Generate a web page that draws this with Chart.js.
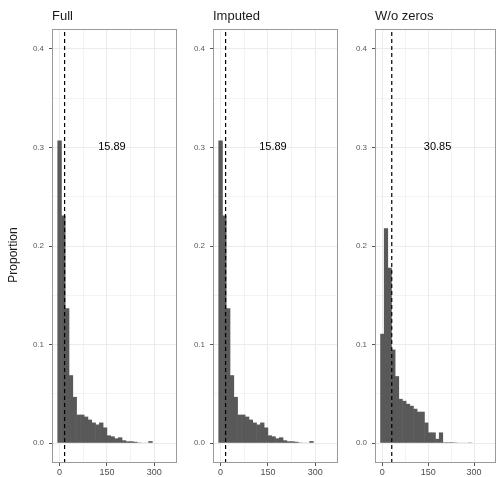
<!DOCTYPE html>
<html>
<head>
<meta charset="utf-8">
<script src="https://cdn.jsdelivr.net/npm/chart.js@4.4.1/dist/chart.umd.min.js"></script>
<style>
  html, body { margin: 0; padding: 0; background: #fff; overflow: hidden; }
  #wrap { position: relative; width: 497px; height: 477px; }
  canvas { position: absolute; top: 0; }
</style>
</head>
<body>
<div id="wrap">
  <canvas id="c0" width="185" height="477" style="left:0px"></canvas>
  <canvas id="c1" width="160" height="477" style="left:185px"></canvas>
  <canvas id="c2" width="152" height="477" style="left:345px"></canvas>
</div>
<script>
// bin centres (binwidth 12)
var binCenters = [0, 12, 24, 36, 48, 60, 72, 84, 96, 108, 120, 132, 144, 156, 168,
                  180, 192, 204, 216, 228, 240, 252, 264, 276, 288, 300, 312, 324, 336, 348];

// proportions per bin
var fullProp = [0.307, 0.231, 0.137, 0.069, 0.047, 0.029, 0.029, 0.027, 0.024, 0.021,
                0.019, 0.021, 0.016, 0.008, 0.007, 0.005, 0.006, 0.003, 0.002, 0.002,
                0.0015, 0.0008, 0.0004, 0.0006, 0.0022, 0, 0, 0, 0, 0];
var imputedProp = [0.307, 0.231, 0.137, 0.069, 0.047, 0.029, 0.029, 0.027, 0.024, 0.021,
                   0.019, 0.021, 0.016, 0.008, 0.007, 0.005, 0.006, 0.003, 0.002, 0.002,
                   0.0015, 0.0008, 0.0004, 0.0006, 0.0022, 0, 0, 0, 0, 0];
var noZeroProp = [0.111, 0.218, 0.178, 0.095, 0.068, 0.045, 0.043, 0.040, 0.038, 0.035,
                  0.032, 0.032, 0.021, 0.011, 0.011, 0.0045, 0.011, 0.001, 0.001, 0.001,
                  0.0008, 0.0006, 0.0006, 0.0006, 0.0008, 0, 0, 0, 0, 0];

var panelTitles = ["Full", "Imputed", "W/o zeros"];
var panelMeans  = [15.89, 15.89, 30.85];

// axis ticks
var xTicks      = [0, 150, 300];
var xMinorTicks = [75, 225];
var yTicks      = [0, 0.1, 0.2, 0.3, 0.4];
var yMinorTicks = [0.05, 0.15, 0.25, 0.35];

var xMin = -24, xMax = 372;
var yMin = -0.02, yMax = 0.42;

Chart.defaults.font.family = "'Liberation Sans', Arial, sans-serif";

function isIn(list, v) {
  for (var i = 0; i < list.length; i++) {
    if (Math.abs(list[i] - v) < 1e-9) return true;
  }
  return false;
}

// titles, mean label, panel border, y title
var facetPlugin = {
  id: "facet",
  afterDraw: function (chart, args, opts) {
    var ctx = chart.ctx, area = chart.chartArea;
    var xs = chart.scales.x, ys = chart.scales.y;
    ctx.save();
    ctx.strokeStyle = "#9a9a9a";
    ctx.lineWidth = 1;
    ctx.strokeRect(area.left + 0.5, area.top + 0.5, area.right - area.left - 1, area.bottom - area.top - 1);

    ctx.fillStyle = "#1a1a1a";
    ctx.font = "13px 'Liberation Sans', Arial, sans-serif";
    ctx.textAlign = "left";
    ctx.textBaseline = "alphabetic";
    ctx.fillText(opts.title, area.left, 20);

    ctx.fillStyle = "#000";
    ctx.font = "11px 'Liberation Sans', Arial, sans-serif";
    ctx.textAlign = "center";
    ctx.textBaseline = "middle";
    ctx.fillText(opts.mean.toFixed(2), xs.getPixelForValue(opts.mean + 150), ys.getPixelForValue(0.3));

    if (opts.yTitle) {
      ctx.font = "12px 'Liberation Sans', Arial, sans-serif";
      ctx.fillStyle = "#1a1a1a";
      ctx.translate(14, 255);
      ctx.rotate(-Math.PI / 2);
      ctx.fillText(opts.yTitle, 0, 0);
    }
    ctx.restore();
  }
};

function makePanel(canvasId, values, title, mean, axisWidth, padRight, yTitle) {
  var bars = binCenters.map(function (c, i) { return { x: c, y: values[i] }; });
  return new Chart(document.getElementById(canvasId).getContext("2d"), {
    type: "bar",
    data: {
      datasets: [
        {
          type: "line",
          data: [{ x: mean, y: yMin }, { x: mean, y: yMax }],
          borderColor: "#000",
          borderWidth: 1.2,
          borderDash: [4, 3],
          pointRadius: 0,
          fill: false,
          order: 0
        },
        {
          type: "bar",
          data: bars,
          backgroundColor: "#595959",
          borderWidth: 0,
          barPercentage: 1.15,
          categoryPercentage: 1,
          order: 1
        }
      ]
    },
    options: {
      responsive: false,
      animation: false,
      devicePixelRatio: 1,
      layout: { padding: { top: 29, right: padRight, bottom: 0, left: 0 } },
      plugins: {
        legend: { display: false },
        tooltip: { enabled: false },
        facet: { title: title, mean: mean, yTitle: yTitle }
      },
      scales: {
        x: {
          type: "linear",
          min: xMin,
          max: xMax,
          offset: false,
          border: { display: false },
          grid: {
            offset: false,
            color: "#ebebeb",
            lineWidth: function (c) { return isIn(xTicks, c.tick.value) ? 1 : 0.6; },
            tickLength: 3,
            tickColor: function (c) { return isIn(xTicks, c.tick.value) ? "#555" : "rgba(0,0,0,0)"; }
          },
          afterBuildTicks: function (scale) {
            scale.ticks = xTicks.concat(xMinorTicks).sort(function (a, b) { return a - b; })
              .map(function (v) { return { value: v }; });
          },
          afterFit: function (scale) { scale.height = 14; },
          ticks: {
            autoSkip: false,
            maxRotation: 0,
            padding: 1,
            color: "#4d4d4d",
            font: { size: 9 },
            callback: function (v) { return isIn(xTicks, v) ? String(v) : ""; }
          }
        },
        y: {
          type: "linear",
          min: yMin,
          max: yMax,
          border: { display: false },
          grid: {
            color: "#ebebeb",
            lineWidth: function (c) { return isIn(yTicks, c.tick.value) ? 1 : 0.6; },
            tickLength: 3,
            tickColor: function (c) { return isIn(yTicks, c.tick.value) ? "#555" : "rgba(0,0,0,0)"; }
          },
          afterBuildTicks: function (scale) {
            scale.ticks = yTicks.concat(yMinorTicks).sort(function (a, b) { return a - b; })
              .map(function (v) { return { value: v }; });
          },
          afterFit: function (scale) { scale.width = axisWidth; },
          ticks: {
            autoSkip: false,
            padding: 5,
            color: "#5a5a5a",
            font: { size: 8 },
            callback: function (v) { return isIn(yTicks, v) ? v.toFixed(1) : ""; }
          }
        }
      }
    },
    plugins: [facetPlugin]
  });
}

makePanel("c0", fullProp,    panelTitles[0], panelMeans[0], 52, 8, "Proportion");
makePanel("c1", imputedProp, panelTitles[1], panelMeans[1], 28, 7, null);
makePanel("c2", noZeroProp,  panelTitles[2], panelMeans[2], 30, 1, null);
</script>
</body>
</html>
